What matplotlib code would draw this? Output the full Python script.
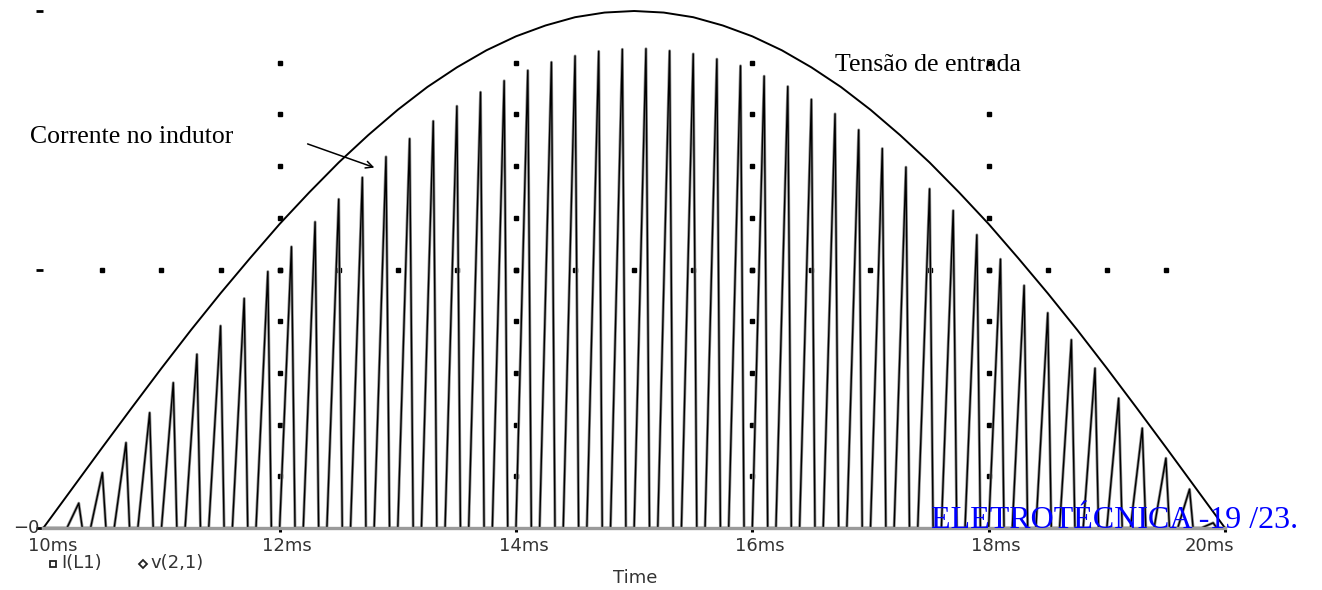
import matplotlib
matplotlib.use("Agg")
import matplotlib.pyplot as plt
from matplotlib.lines import Line2D
import numpy as np

W, H = 1322, 590

# corrente no indutor: altura de cada pico (escala vertical 0..10)
peak_heights = [0.48, 1.07, 1.65, 2.23, 2.81, 3.36, 3.91, 4.44, 4.96, 5.44,
                5.92, 6.36, 6.78, 7.18, 7.53, 7.87, 8.16, 8.43, 8.65, 8.85,
                9.01, 9.13, 9.22, 9.26, 9.27, 9.23, 9.17, 9.07, 8.94, 8.74,
                8.54, 8.29, 8.01, 7.70, 7.34, 6.98, 6.56, 6.14, 5.67, 5.20,
                4.69, 4.16, 3.64, 3.09, 2.51, 1.93, 1.35, 0.75, 0.10]
first_peak_ms = 10.3
period_ms = 0.2
rise_ms, fall_ms = 0.1, 0.03

# tensão de entrada, lida a cada 0.25 ms de 10 ms a 20 ms
vin_step_ms = 0.25
vin = [0.00, 0.78, 1.56, 2.33, 3.09, 3.83, 4.54, 5.22, 5.88, 6.49,
       7.07, 7.60, 8.09, 8.53, 8.91, 9.24, 9.51, 9.72, 9.88, 9.97,
       10.00, 9.97, 9.88, 9.72, 9.51, 9.24, 8.91, 8.53, 8.09, 7.60,
       7.07, 6.49, 5.88, 5.22, 4.54, 3.83, 3.09, 2.33, 1.56, 0.78, 0.00]

x_ticks = [10, 12, 14, 16, 18, 20]
x_labels = ["10ms", "12ms", "14ms", "16ms", "18ms", "20ms"]
label_shift = [0.08, 0.065, 0.065, 0.06, 0.06, -0.135]

fig = plt.figure(figsize=(W / 100, H / 100), dpi=100)
ax = fig.add_axes([43.3 / W, 62 / H, 1181.7 / W, 517 / H])
ax.set_xlim(10, 20)
ax.set_ylim(0, 10)

# corrente: dente de serra (modo descontínuo)
peak_t = first_peak_ms + period_ms * np.arange(len(peak_heights))
ct, ci = [10.0], [0.0]
for tp, h in zip(peak_t, peak_heights):
    ct += [tp - rise_ms, tp, tp + fall_ms]
    ci += [0.0, h, 0.0]
ct.append(20.0)
ci.append(0.0)
ax.plot(ct, ci, color="#909090", lw=2.1, clip_on=False, zorder=2)
ax.plot(ct, ci, color="black", lw=1.0, clip_on=False, zorder=3)

vt = 10 + vin_step_ms * np.arange(len(vin))
ax.plot(vt, vin, color="black", lw=1.4, clip_on=False, zorder=4)

# grade pontilhada estilo PSpice
for gx in [12, 14, 16, 18]:
    ax.plot([gx] * 9, np.arange(1, 10), ls="none", marker="s", ms=2.3,
            color="black", zorder=1)
ax.plot(np.arange(10.5, 20, 0.5), [5] * 19, ls="none", marker="s", ms=2.3,
        color="black", zorder=1)

for s in ["left", "top", "right"]:
    ax.spines[s].set_visible(False)
ax.spines["bottom"].set_color("#9a9a9a")
ax.spines["bottom"].set_linewidth(2.4)
ax.spines["bottom"].set_zorder(5)

ax.set_xticks([12, 14, 16, 18, 20])
ax.set_xticklabels([])
ax.tick_params(axis="x", direction="out", length=3, width=2.2, color="black")
ax.set_yticks([0, 5, 10])
ax.set_yticklabels([])
ax.tick_params(axis="y", direction="out", length=5, width=2.0, color="black")

sans = dict(family="DejaVu Sans", fontsize=13, color="#333333")
for t, lab, dx in zip(x_ticks, x_labels, label_shift):
    ax.text(t + dx, -0.35, lab, ha="center", va="center", clip_on=False, **sans)
fig.text(26 / W, 1 - 528 / H, "\u22120", ha="center", va="center", **sans)
fig.text(635 / W, 1 - 578 / H, "Time", ha="center", va="center", **sans)

# legenda
fig.add_artist(Line2D([53 / W], [1 - 564 / H], marker="s", ms=5, mfc="white",
                      mec="#222222", mew=1.3, ls="none"))
fig.text(61 / W, 1 - 563 / H, "I(L1)", ha="left", va="center", **sans)
fig.add_artist(Line2D([143 / W], [1 - 564 / H], marker="D", ms=4.5, mfc="white",
                      mec="#222222", mew=1.3, ls="none"))
fig.text(150 / W, 1 - 563 / H, "v(2,1)", ha="left", va="center", **sans)

serif = dict(family="Liberation Serif", fontsize=18.5, color="black")
fig.text(30 / W, 1 - 137 / H, "Corrente no indutor", ha="left", va="center", **serif)
fig.text(835 / W, 1 - 65 / H, "Tensão de entrada", ha="left", va="center", **serif)
ax.annotate("", xy=(377, H - 168.5), xycoords="figure pixels",
            xytext=(305, H - 143), textcoords="figure pixels",
            arrowprops=dict(arrowstyle="->,head_length=0.5,head_width=0.25",
                            color="black", lw=1.1))

fig.text(931 / W, 1 - 528.3 / H, "ELETROTÉCNICA -19 /23.", ha="left",
         va="baseline", family="Liberation Serif", fontsize=23, color="#0000ff",
         zorder=10)

fig.savefig("out.png", dpi=100)
